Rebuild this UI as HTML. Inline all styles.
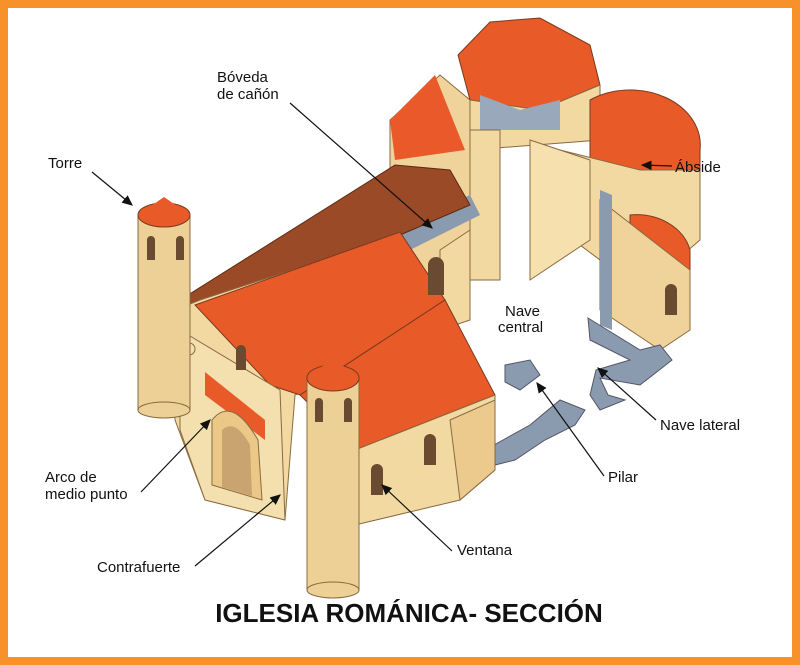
<!DOCTYPE html>
<html><head><meta charset="utf-8"><style>
html,body{margin:0;padding:0;background:#fff}
.f{position:absolute;left:0;top:0;width:784px;height:649px;border:8px solid #f7922a;background:#fff}
svg{position:absolute;left:0;top:0}
text{font-family:"Liberation Sans",sans-serif;font-size:15px;fill:#111}
</style></head><body>
<div class="f"></div>
<svg width="800" height="665" viewBox="0 0 800 665">
<defs><marker id="a" markerWidth="10" markerHeight="10" refX="8" refY="5" orient="auto"><path d="M0,1 L9,5 L0,9 z" fill="#111"/></marker></defs>
<polygon points="390,120 440,75 470,100 470,280 440,300 390,300" fill="#f0d39a" stroke="#8a6a40" stroke-width="1"/>
<polygon points="390,120 435,75 465,150 395,160" fill="#e9592a"/>
<polygon points="458,55 490,22 540,18 590,45 600,85 540,110 470,100" fill="#e85a28" stroke="#7a3a20"/>
<polygon points="470,100 540,110 600,85 600,140 470,150" fill="#f2d9a2" stroke="#8a6a40"/>
<polygon points="480,95 520,110 560,100 560,130 480,130" fill="#9aa8bb"/>
<path d="M590,100 A70,55 0 0 1 700,150 L700,200 L590,200 z" fill="#e85a28" stroke="#7a3a20"/>
<polygon points="560,150 640,170 700,170 700,240 630,300 600,260 560,230" fill="#f2d9a2" stroke="#8a6a40"/>
<path d="M630,215 A55,45 0 0 1 690,250 L690,270 L630,270 z" fill="#e85a28" stroke="#7a3a20"/>
<polygon points="600,200 690,270 690,330 660,350 600,310" fill="#f0d39a" stroke="#8a6a40"/>
<polygon points="600,190 612,195 612,330 600,325" fill="#8a9bb0"/>
<polygon points="470,130 500,130 500,280 470,280" fill="#f2d9a2" stroke="#8a6a40"/>
<polygon points="530,140 590,160 590,240 530,280" fill="#f5e0ae" stroke="#8a6a40"/>
<polygon points="588,318 640,350 660,345 672,360 640,385 600,378 608,395 625,400 600,410 590,395 596,370 630,360 590,340" fill="#8a9bb0" stroke="#556"/>
<polygon points="505,365 530,360 540,375 520,390 505,382" fill="#8a9bb0" stroke="#556"/>
<polygon points="485,450 530,425 560,400 585,410 575,425 545,440 515,460 495,465" fill="#8a9bb0" stroke="#556"/>
<polygon points="395,230 470,195 480,215 400,255" fill="#8a9bb0"/>
<polygon points="440,250 470,230 470,320 440,330" fill="#f2d9a2" stroke="#8a6a40"/>
<polygon points="180,300 395,165 450,170 470,205 400,235 205,310" fill="#9a4a26" stroke="#5a2a10"/>
<polygon points="175,310 200,300 400,235 440,300 440,330 295,395 285,520 205,500 175,420" fill="#f2d9a2" stroke="#8a6a40"/>
<polygon points="195,305 400,232 445,300 300,395 285,390 270,385" fill="#e85a28" stroke="#7a3a20"/>
<polygon points="180,330 280,390 285,520 205,500 180,430" fill="#f4dfae" stroke="#8a6a40"/>
<polygon points="205,372 265,420 265,440 205,395" fill="#e85a28"/>
<path d="M212,420 Q232,395 258,440 L262,500 L212,485 z" fill="#ecc888" stroke="#8a6a40"/>
<path d="M222,430 Q235,418 250,445 L252,496 L222,487 z" fill="#c9a470"/>
<polygon points="300,395 445,300 495,395 355,450" fill="#e85a28" stroke="#7a3a20"/>
<polygon points="355,450 495,395 495,470 460,500 355,525" fill="#f2d9a2" stroke="#8a6a40"/>
<polygon points="450,420 495,400 495,470 460,500" fill="#ecca8e" stroke="#8a6a40"/>
<path d="M371,470 a6,6 0 0 1 12,0 v25 h-12z" fill="#6a4a30"/>
<path d="M424,440 a6,6 0 0 1 12,0 v25 h-12z" fill="#6a4a30"/>
<path d="M236,350 a5,5 0 0 1 10,0 v20 h-10z" fill="#6a4a30"/>
<circle cx="189" cy="349" r="6" fill="#f4dfae" stroke="#8a6a40"/>
<path d="M428,265 a8,8 0 0 1 16,0 v30 h-16z" fill="#6a4a30"/>
<path d="M665,290 a6,6 0 0 1 12,0 v25 h-12z" fill="#6a4a30"/>
<rect x="138" y="215" width="52" height="195" fill="#ecd096" stroke="#8a6a40"/>
<ellipse cx="164" cy="410" rx="26" ry="8" fill="#ecd096" stroke="#8a6a40"/>
<ellipse cx="164" cy="215" rx="26" ry="12" fill="#e85a28" stroke="#7a3a20"/>
<polygon points="138,215 164,197 190,215" fill="#e85a28"/>
<path d="M147,240 a4,4 0 0 1 8,0 v20 h-8z M176,240 a4,4 0 0 1 8,0 v20 h-8z" fill="#6a4a30"/>
<rect x="307" y="378" width="52" height="212" fill="#ecd096" stroke="#8a6a40"/>
<ellipse cx="333" cy="590" rx="26" ry="8" fill="#ecd096" stroke="#8a6a40"/>
<ellipse cx="333" cy="378" rx="26" ry="13" fill="#e85a28" stroke="#7a3a20"/>
<polygon points="307,378 333,358 359,378" fill="#e85a28"/>
<path d="M315,402 a4,4 0 0 1 8,0 v20 h-8z M344,402 a4,4 0 0 1 8,0 v20 h-8z" fill="#6a4a30"/>
<text x="48" y="168">Torre</text>
<text x="217" y="82">Bóveda</text>
<text x="217" y="99">de cañón</text>
<text x="675" y="172">Ábside</text>
<text x="505" y="316">Nave</text>
<text x="498" y="332">central</text>
<text x="660" y="430">Nave lateral</text>
<text x="608" y="482">Pilar</text>
<text x="45" y="482">Arco de</text>
<text x="45" y="499">medio punto</text>
<text x="97" y="572">Contrafuerte</text>
<text x="457" y="555">Ventana</text>
<g stroke="#111" stroke-width="1.2" marker-end="url(#a)">
<line x1="92" y1="172" x2="132" y2="205"/>
<line x1="290" y1="103" x2="432" y2="228"/>
<line x1="672" y1="166" x2="642" y2="165"/>
<line x1="656" y1="420" x2="598" y2="368"/>
<line x1="604" y1="476" x2="537" y2="383"/>
<line x1="141" y1="492" x2="210" y2="420"/>
<line x1="195" y1="566" x2="280" y2="495"/>
<line x1="452" y1="551" x2="382" y2="485"/>
</g>
<text x="409" y="622" text-anchor="middle" style="font-size:26px;font-weight:bold">IGLESIA ROMÁNICA- SECCIÓN</text>
</svg>
</body></html>
